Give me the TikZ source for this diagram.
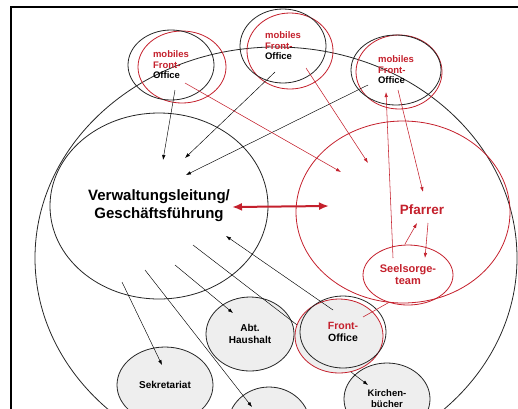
\documentclass[tikz,border=0pt]{standalone}
\usepackage{fontspec}
\setmainfont{Liberation Sans}
\usetikzlibrary{shapes.geometric,arrows.meta}
\definecolor{kred}{RGB}{196,32,44}
\definecolor{unitgray}{RGB}{238,238,238}

\begin{document}
\begin{tikzpicture}[x=1pt,y=-1pt,>={Latex[length=5pt,width=3.5pt]},
  bubble/.style={draw=black!85,ellipse,inner sep=0pt,line width=0.8pt,font=\bfseries},
  redbubble/.style={draw=kred,ellipse,inner sep=0pt,line width=0.8pt},
  unit/.style={bubble,fill=unitgray},
  link/.style={->,line width=0.45pt},
  redlink/.style={->,kred,line width=0.55pt}]

\newcommand\mobtext{\fontsize{9.5}{10.5}\selectfont}
\newcommand\unittext{\fontsize{10}{12}\selectfont}

  \useasboundingbox (0,0) rectangle (518,408);
  \clip (0,0) rectangle (518,408);
  \draw[line width=1.5pt] (11,7) rectangle (540,430);

  %% parish as a whole
  \node[bubble,minimum width=482pt,minimum height=422pt] (outer) at (276,258) {};

  %% management and pastor
  \node[bubble,minimum width=218pt,minimum height=186pt,align=center,
    font=\bfseries\fontsize{15}{18}\selectfont] (vl) at (159,206)
    {Verwaltungsleitung/\\Geschäftsführung};
  \node[redbubble,minimum width=214pt,minimum height=182pt] (pf) at (403,212) {};
  \node[kred,font=\bfseries\fontsize{13.5}{16}\selectfont] (pftext) at (422,210) {Pfarrer};
  \node[redbubble,minimum width=90pt,minimum height=60pt,text=kred,align=center,
    font=\bfseries\fontsize{11}{12}\selectfont] (st) at (408,275) {Seelsorge-\\team};

  %% mobile front offices
  \node[redbubble,minimum width=88pt,minimum height=72pt] (mfo1r) at (182,67) {};
  \node[bubble,minimum width=86pt,minimum height=70pt,align=left,font=\bfseries\mobtext]
    (mfo1) at (171,65) {\textcolor{kred}{mobiles}\\\textcolor{kred}{Front-}\\Office};
  \node[redbubble,minimum width=86pt,minimum height=76pt] (mfo2r) at (290,51) {};
  \node[bubble,minimum width=86pt,minimum height=74pt,align=left,font=\bfseries\mobtext]
    (mfo2) at (283,46) {\textcolor{kred}{mobiles}\\\textcolor{kred}{Front-}\\Office};
  \node[redbubble,minimum width=86pt,minimum height=74pt] (mfo3r) at (399,72) {};
  \node[bubble,minimum width=90pt,minimum height=70pt,align=left,font=\bfseries\mobtext]
    (mfo3) at (396,70) {\textcolor{kred}{mobiles}\\\textcolor{kred}{Front-}\\Office};

  %% units
  \node[redbubble,fill=unitgray,minimum width=88pt,minimum height=74pt] (for) at (339,336) {};
  \node[bubble,minimum width=86pt,minimum height=72pt,align=center,
    font=\bfseries\fontsize{10.5}{11.5}\selectfont] (fo) at (343,332)
    {\textcolor{kred}{Front-}\\Office};
  \node[unit,minimum width=88pt,minimum height=74pt,align=center,font=\bfseries\unittext]
    (abt) at (250,334) {Abt.\\Haushalt};
  \node[unit,minimum width=96pt,minimum height=76pt,font=\bfseries\unittext]
    (sek) at (165,385) {Sekretariat};
  \node[unit,minimum width=82pt,minimum height=76pt] (nn) at (269,425) {};
  \node[unit,minimum width=86pt,minimum height=72pt,align=center,
    font=\bfseries\fontsize{9.5}{11}\selectfont] (kb) at (387,399) {Kirchen-\\bücher};

  %% free ends of the connectors
  \coordinate (m1a) at (175,90);
  \coordinate (m1b) at (185,83);
  \coordinate (m2a) at (275,72);
  \coordinate (m2b) at (306,68);
  \coordinate (m3a) at (368,85);
  \coordinate (m3b) at (398,90);
  \coordinate (m3c) at (386,92);
  \coordinate (vla) at (163,160);
  \coordinate (vlb) at (185,158);
  \coordinate (vlc) at (186,175);
  \coordinate (vld) at (226,236);
  \coordinate (vle) at (193,245);
  \coordinate (vlf) at (175,265);
  \coordinate (vlg) at (145,270);
  \coordinate (vlh) at (122,282);
  \coordinate (vlw) at (232,207);
  \coordinate (pfw) at (329,206);
  \coordinate (pfa) at (341,172);
  \coordinate (pfb) at (368,163);
  \coordinate (pfc) at (423,192);
  \coordinate (pfd) at (417,223);
  \coordinate (pfe) at (428,223);
  \coordinate (sta) at (393,258);
  \coordinate (stb) at (405,244);
  \coordinate (stc) at (425,258);
  \coordinate (foa) at (333,310);
  \coordinate (fob) at (363,317);
  \coordinate (foc) at (351,372);
  \coordinate (abta) at (233,313);
  \coordinate (seka) at (162,365);
  \coordinate (nna) at (252,407);
  \coordinate (kba) at (368,385);

  %% mobile front office to management
  \draw[link] (m1a) -- (vla);
  \draw[link] (m2a) -- (vlb);
  \draw[link] (m3a) -- (vlc);
  %% mobile front office to pastor
  \draw[redlink] (m1b) -- (pfa);
  \draw[redlink] (m2b) -- (pfb);
  \draw[redlink] (m3b) -- (pfc);
  \draw[redlink] (sta) -- (m3c);
  \draw[redlink] (stb) -- (pfd);
  \draw[redlink] (pfe) -- (stc);
  \draw[{Latex[length=10pt,width=8pt]}-{Latex[length=10pt,width=8pt]},kred,line width=2pt]
    (vlw) -- (pfw);

  %% management to units
  \draw[link] (foa) -- (vld);
  \draw[kred,line width=0.55pt] (fob) -- (st.-125);
  \draw[line width=0.45pt] (vle) -- (for.165);
  \draw[link] (vlf) -- (abta);
  \draw[link] (vlg) -- (nna);
  \draw[link] (vlh) -- (seka);
  \draw[link] (foc) -- (kba);

\end{tikzpicture}
\end{document}
